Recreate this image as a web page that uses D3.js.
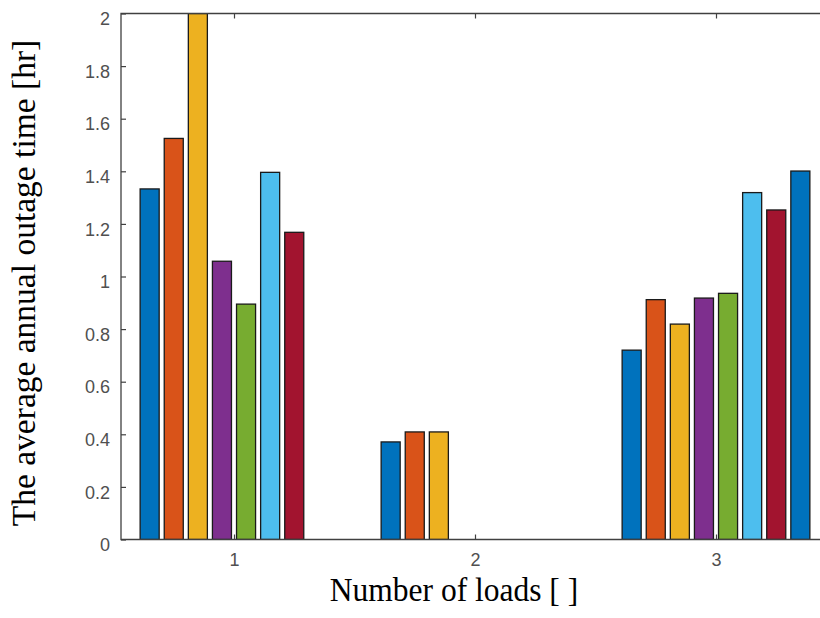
<!DOCTYPE html>
<html>
<head>
<meta charset="utf-8">
<script src="https://cdn.jsdelivr.net/npm/d3@7"></script>
<style>
  body { margin: 0; background: #fff; }
  svg { display: block; }
</style>
</head>
<body>
<div id="chart"></div>
<script>

// number of loads on the x axis
var loads = [1, 2, 3];

// one array per bar series (8 series, MATLAB grouped bar)
var series1 = [1.333, 0.371, 0.720];
var series2 = [1.525, 0.409, 0.912];
var series3 = [2.000, 0.409, 0.819];
var series4 = [1.058, 0, 0.918];
var series5 = [0.895, 0, 0.936];
var series6 = [1.396, 0, 1.319];
var series7 = [1.168, 0, 1.253];
var series8 = [0, 0, 1.401];

var yTicks = [0, 0.2, 0.4, 0.6, 0.8, 1, 1.2, 1.4, 1.6, 1.8, 2];

var colors = ["#0072BD", "#D95319", "#EDB120", "#7E2F8E",
              "#77AC30", "#4DBEEE", "#A2142F", "#0072BD"];

var allSeries = [series1, series2, series3, series4, series5, series6, series7, series8];

var full_width = 820;
var full_height = 618;

var plot = { left: 121, top: 13.5, bottom: 539.5 };

var svg = d3.select("#chart")
    .append("svg")
    .attr("width", full_width)
    .attr("height", full_height);

// x: 1 -> 234, 3 -> 716
var x = d3.scaleLinear()
    .domain([1, 3])
    .range([234, 716]);

var xMax = 3.5;
var plotRight = x(xMax);

var y = d3.scaleLinear()
    .domain([0, 2])
    .range([plot.bottom, plot.top]);

svg.append("defs").append("clipPath")
    .attr("id", "plotclip")
    .append("rect")
    .attr("x", plot.left)
    .attr("y", plot.top)
    .attr("width", plotRight - plot.left)
    .attr("height", plot.bottom - plot.top);

/*-------------bars---------------------*/

var nSeries = allSeries.length;
var slot = 0.1;
var barW = slot * 0.79;

var bars = svg.append("g").attr("clip-path", "url(#plotclip)");

allSeries.forEach(function(s, i){
    var offset = (i - (nSeries - 1) / 2) * slot;
    bars.selectAll(".s" + i)
        .data(s)
        .enter().append("rect")
        .attr("class", "s" + i)
        .attr("x", function(d, j){ return x(loads[j] + offset - barW / 2); })
        .attr("width", function(){ return x(barW) - x(0); })
        .attr("y", function(d){ return y(d); })
        .attr("height", function(d){ return y(0) - y(d); })
        .style("fill", colors[i])
        .style("stroke", function(d){ return d > 0 ? "#1a1a1a" : "none"; })
        .style("stroke-width", 1.3);
});

/*-------------axes---------------------*/

var axisColor = "#404040";

var yAxis = d3.axisLeft(y)
    .tickValues(yTicks)
    .tickSize(-5)
    .tickPadding(11)
    .tickFormat(function(d){ return d3.format("")(d); });

var gy = svg.append("g")
    .attr("transform", "translate(" + plot.left + ",0)")
    .call(yAxis);

var xAxis = d3.axisBottom(x)
    .tickValues(loads)
    .tickSize(-5)
    .tickPadding(14)
    .tickFormat(d3.format("d"));

var gx = svg.append("g")
    .attr("transform", "translate(0," + plot.bottom + ")")
    .call(xAxis);

var xTop = d3.axisTop(x)
    .tickValues(loads)
    .tickSize(-5)
    .tickFormat("");

var gt = svg.append("g")
    .attr("transform", "translate(0," + plot.top + ")")
    .call(xTop);

[gx, gy, gt].forEach(function(g){
    g.select(".domain").remove();
    g.selectAll(".tick line").style("stroke", axisColor).style("stroke-width", 1.2);
    g.selectAll(".tick text")
        .style("font-family", "'Liberation Sans', Arial, sans-serif")
        .style("font-size", "18px")
        .style("fill", "#505050");
});

gy.selectAll(".tick text").attr("dy", "0.62em");

// box lines
svg.append("path")
    .attr("d", "M" + plotRight + "," + plot.top + "H" + plot.left + "V" + plot.bottom + "H" + plotRight)
    .style("fill", "none")
    .style("stroke", axisColor)
    .style("stroke-width", 1.3);

/*-------------labels---------------------*/

svg.append("text")
    .attr("transform", "translate(454,601) scale(1,1.1)")
    .attr("text-anchor", "middle")
    .style("font-family", "'Liberation Serif', 'Times New Roman', serif")
    .style("font-size", "31.5px")
    .style("fill", "#000")
    .text("Number of loads [ ]");

svg.append("text")
    .attr("transform", "translate(35,283) rotate(-90)")
    .attr("text-anchor", "middle")
    .style("font-family", "'Liberation Serif', 'Times New Roman', serif")
    .style("font-size", "33.5px")
    .style("fill", "#000")
    .text("The average annual outage time [hr]");

</script>
</body>
</html>
